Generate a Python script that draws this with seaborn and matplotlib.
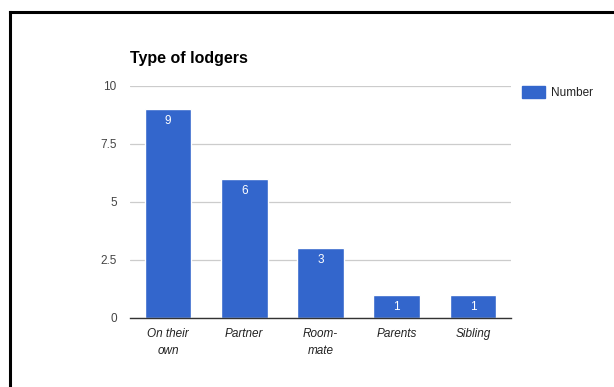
import matplotlib
matplotlib.use("Agg")
import matplotlib.pyplot as plt
from matplotlib.lines import Line2D
import seaborn as sns
import pandas as pd

categories = ["On their\nown", "Partner", "Room-\nmate", "Parents", "Sibling"]
counts = [9, 6, 3, 1, 1]
yticks = [0, 2.5, 5, 7.5, 10]
ytick_labels = ["0", "2.5", "5", "7.5", "10"]

sns.set_theme(style="white")
plt.rcParams["font.family"] = ["Liberation Sans", "DejaVu Sans"]

bar_color = "#3366cc"
df = pd.DataFrame({"Type": categories, "Number": counts})

fig = plt.figure(figsize=(6.14, 3.87), dpi=100)
ax = fig.add_axes([0.2117, 0.1783, 0.6205, 0.5995])

sns.barplot(data=df, x="Type", y="Number", color=bar_color, width=0.61,
            saturation=1, ax=ax, label="Number", zorder=3)

ax.set_ylim(0, 10)
ax.set_xlim(-0.5, len(categories) - 0.5)
ax.set_yticks(yticks)
ax.set_yticklabels(ytick_labels)
ax.yaxis.grid(True, color="#cccccc", linewidth=0.9, zorder=0)
ax.set_axisbelow(True)
for s in ["top", "right", "left"]:
    ax.spines[s].set_visible(False)
ax.spines["bottom"].set_color("#333333")
ax.spines["bottom"].set_linewidth(1.0)
ax.spines["bottom"].set_zorder(4)
ax.tick_params(axis="y", length=0, pad=9.5, labelsize=8.5, labelcolor="#444444")
ax.tick_params(axis="x", length=0, pad=7, labelsize=8.5, labelcolor="#222222")
for lbl in ax.get_xticklabels():
    lbl.set_fontstyle("italic")
    lbl.set_linespacing(1.55)
ax.set_xlabel("")
ax.set_ylabel("")

# value labels inside the top of each bar
for cont in ax.containers:
    ax.bar_label(cont, labels=[str(v) for v in counts], label_type="edge",
                 padding=-13, color="white", fontsize=8.5)

ax.legend(handles=[plt.Rectangle((0, 0), 1, 1, color=bar_color)], labels=["Number"],
          loc="upper left", bbox_to_anchor=(1.0, 1.045), frameon=False,
          fontsize=8.5, handlelength=2.0, handleheight=1.1, handletextpad=0.45,
          labelcolor="#222222")

fig.text(130 / 614, 1 - 58 / 387, "Type of lodgers", fontsize=11.5, fontweight="bold",
         color="#000000", va="center", ha="left")

# frame around the figure (top and left edges visible)
fig.add_artist(Line2D([10 / 614, 10 / 614], [0, 1 - 12 / 387], transform=fig.transFigure,
                      color="black", linewidth=2.2, solid_capstyle="projecting"))
fig.add_artist(Line2D([10 / 614, 1], [1 - 12 / 387, 1 - 12 / 387], transform=fig.transFigure,
                      color="black", linewidth=2.2, solid_capstyle="projecting"))

fig.savefig("out.png", dpi=100)
